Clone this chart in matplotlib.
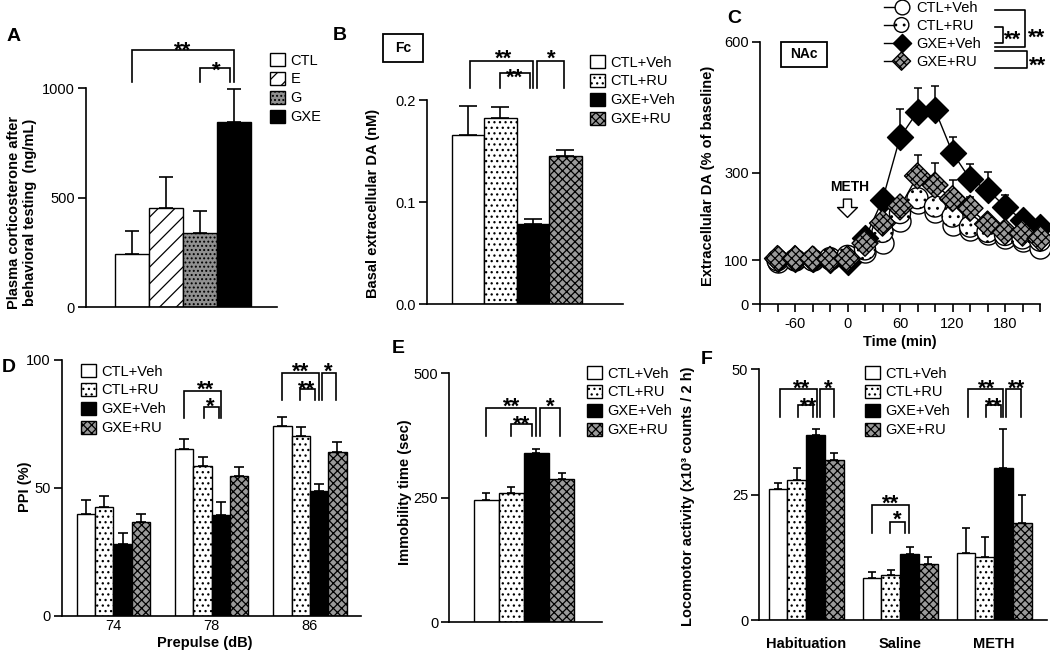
import numpy as np
import matplotlib
matplotlib.use('Agg')
import matplotlib.pyplot as plt
from matplotlib.patches import Patch, Rectangle
from matplotlib.lines import Line2D
from matplotlib.legend_handler import HandlerTuple

plt.rcParams['font.family'] = ['Liberation Sans', 'DejaVu Sans']
plt.rcParams['font.size'] = 10
plt.rcParams['hatch.linewidth'] = 0.9
plt.rcParams['hatch.color'] = 'black'
plt.rcParams['axes.linewidth'] = 1.2

# ---------------- data ----------------
groups4 = ['CTL+Veh', 'CTL+RU', 'GXE+Veh', 'GXE+RU']

# Panel A : plasma corticosterone
a_groups = ['CTL', 'E', 'G', 'GXE']
a_mean = [245, 455, 338, 848]
a_sem = [103, 141, 103, 147]
a_yticks = [0, 500, 1000]

# Panel B : basal extracellular DA in Fc
b_mean = [0.166, 0.182, 0.078, 0.145]
b_sem = [0.028, 0.011, 0.005, 0.006]
b_yticks = [0.0, 0.1, 0.2]

# Panel C : extracellular DA time course in NAc
c_time = [-80, -60, -40, -20, 0, 20, 40, 60, 80, 100, 120, 140, 160, 180, 200, 220]
c_ctl_veh = [97, 100, 100, 103, 110, 120, 139, 190, 232, 210, 180, 170, 160, 152, 145, 127]
c_ctl_ru = [100, 101, 100, 105, 110, 125, 165, 208, 242, 223, 200, 177, 165, 158, 150, 145]
c_gxe_veh = [103, 103, 102, 100, 96, 150, 238, 381, 440, 444, 346, 286, 261, 223, 192, 177]
c_gxe_ru = [104, 104, 103, 102, 104, 139, 185, 222, 293, 272, 241, 219, 183, 165, 162, 150]
c_ctl_veh_sem = [3, 3, 3, 3, 4, 5, 8, 12, 15, 12, 10, 8, 8, 6, 6, 5]
c_ctl_ru_sem = [3, 3, 3, 3, 4, 5, 8, 12, 18, 15, 12, 10, 8, 6, 6, 5]
c_gxe_veh_sem = [3, 3, 3, 3, 4, 6, 8, 65, 53, 55, 37, 34, 42, 26, 19, 15]
c_gxe_ru_sem = [3, 3, 3, 3, 4, 6, 10, 20, 48, 50, 43, 25, 15, 10, 8, 8]
c_yticks = [0, 100, 300, 600]
c_xticks = list(range(-100, 221, 20))
c_xticklabels = ['' if t not in (-60, 0, 60, 120, 180) else str(t) for t in c_xticks]

# Panel D : PPI
d_prepulse = ['74', '78', '86']
d_mean = [[39.8, 65.3, 74.3],   # CTL+Veh
          [42.4, 58.5, 70.3],   # CTL+RU
          [27.9, 39.2, 48.6],   # GXE+Veh
          [36.6, 54.8, 64.1]]   # GXE+RU
d_sem = [[5.4, 3.9, 3.3],
         [4.4, 3.7, 3.4],
         [4.3, 5.3, 2.9],
         [3.0, 3.5, 3.8]]
d_yticks = [0, 50, 100]

# Panel E : immobility time
e_mean = [245.6, 259, 339, 287]
e_sem = [13.4, 13.4, 9.7, 12]
e_yticks = [0, 250, 500]

# Panel F : locomotor activity
f_cats = ['Habituation', 'Saline', 'METH']
f_mean = [[26.1, 8.3, 13.3],
          [27.9, 9.0, 12.6],
          [36.8, 13.2, 30.4],
          [31.9, 11.1, 19.4]]
f_sem = [[1.2, 1.3, 5.0],
         [2.4, 1.0, 3.9],
         [1.3, 1.4, 7.7],
         [1.5, 1.4, 5.5]]
f_yticks = [0, 25, 50]

# significance brackets: (x_left, x_right, y_top, y_bottom, label, text_x, text_y)
a_sig = [(0.0, 3.0, 1175, 1030, '**', 1.5, 1205),
         (2.0, 2.9, 1093, 1030, '*', 2.47, 1114)]
b_sig = [(0.05, 2.0, 0.238, 0.212, '**', 1.09, 0.247),
         (0.99, 1.91, 0.226, 0.212, '**', 1.45, 0.229),
         (2.12, 2.96, 0.238, 0.212, '*', 2.56, 0.247)]
d_sig = [(0.72, 1.093, 88, 77.3, '**', 0.94, 91),
         (0.918, 1.07, 81.7, 77.3, '*', 0.99, 84.4),
         (1.72, 2.09, 95, 84.4, '**', 1.906, 98),
         (1.90, 2.05, 88.5, 84.4, '**', 1.97, 90.9),
         (2.12, 2.27, 95, 84.4, '*', 2.19, 98)]
e_sig = [(0.0, 2.0, 430, 374, '**', 1.02, 446),
         (1.0, 1.81, 398, 374, '**', 1.41, 410),
         (2.14, 2.94, 430, 374, '*', 2.57, 446)]
f_sig = [(-0.28, 0.11, 46.0, 40.4, '**', -0.05, 47.5),
         (-0.09, 0.075, 42.9, 40.4, '**', 0.02, 43.9),
         (0.145, 0.295, 46.0, 40.4, '*', 0.235, 47.5),
         (0.70, 1.09, 22.9, 17.4, '**', 0.90, 24.6),
         (0.89, 1.05, 19.6, 17.4, '*', 0.97, 21.3),
         (1.72, 2.10, 46.0, 40.4, '**', 1.92, 47.5),
         (1.915, 2.075, 42.9, 40.4, '**', 1.99, 43.9),
         (2.13, 2.285, 46.0, 40.4, '**', 2.24, 47.5)]

# ---------------- styles ----------------
W, H = 1050, 653
fig = plt.figure(figsize=(W / 100, H / 100), dpi=100)

CHECK = 'xxxx'
CHECK_FC = '#9a9a9a'
sty4 = [dict(facecolor='white', hatch=None),
        dict(facecolor='white', hatch='...'),
        dict(facecolor='black', hatch=None),
        dict(facecolor=CHECK_FC, hatch=CHECK)]
styA = [dict(facecolor='white', hatch=None),
        dict(facecolor='white', hatch='//'),
        dict(facecolor='#909090', hatch='....'),
        dict(facecolor='black', hatch=None)]

STAR_FS = 16


def add_ax(x0, y0, x1, y1):
    return fig.add_axes([x0 / W, 1 - y1 / H, (x1 - x0) / W, (y1 - y0) / H])


def style_ax(ax, yticks, ylabels=None):
    for s in ('top', 'right'):
        ax.spines[s].set_visible(False)
    ax.set_yticks(yticks)
    if ylabels is not None:
        ax.set_yticklabels(ylabels)
    ax.tick_params(axis='y', direction='out', length=6, width=1.2, pad=2, labelsize=10.5)
    ax.tick_params(axis='x', length=0)


def ylabel_at(ax, text, px, py, **kw):
    ax.set_ylabel(text, fontweight='bold', fontsize=10.5, **kw)
    bb = ax.get_position()
    fx, fy = px / W, 1 - py / H
    ax.yaxis.set_label_coords((fx - bb.x0) / bb.width, (fy - bb.y0) / bb.height)
    ax.yaxis.label.set_verticalalignment('center')


def sig(ax, items, fs=STAR_FS):
    for x1, x2, yt, yb, lab, tx, ty in items:
        ax.plot([x1, x1, x2, x2], [yb, yt, yt, yb], color='black', lw=1.2,
                clip_on=False, solid_joinstyle='miter')
        ax.annotate(lab, (tx, ty), xytext=(0, -0.58 * fs), textcoords='offset points',
                    ha='center', va='baseline', fontsize=fs, fontweight='bold',
                    annotation_clip=False)


def bar_legend(ax, labels, styles, px, py):
    handles = [Patch(edgecolor='black', linewidth=1.0, **s) for s in styles]
    ax.legend(handles, labels, loc='upper left', bbox_to_anchor=(px / W, 1 - py / H),
              bbox_transform=fig.transFigure, frameon=False, borderpad=0,
              borderaxespad=0, handlelength=1.0, handleheight=1.0,
              handletextpad=0.4, labelspacing=0.3, fontsize=10.5)


def letter(px, py, t):
    fig.text(px / W, 1 - py / H, t, fontsize=14, fontweight='bold', ha='center', va='center')


# ---------------- Panel A ----------------
axA = add_ax(86, 88.3, 277, 307.3)
xa = np.arange(len(a_groups))
for i in range(len(a_groups)):
    axA.bar(xa[i], a_mean[i], 1.0, edgecolor='black', linewidth=1.0, zorder=2, **styA[i])
axA.errorbar(xa, a_mean, yerr=[np.zeros(len(a_sem)), a_sem], fmt='none', ecolor='black',
             elinewidth=1.2, capsize=4.7, capthick=1.2, zorder=1)
axA.set_xlim(-1.37, 4.28)
axA.set_ylim(0, 1000)
style_ax(axA, a_yticks)
axA.set_xticks([])
sig(axA, a_sig)
bar_legend(axA, a_groups, styA, 270, 53)
ylabel_at(axA, 'Plasma corticosterone after\nbehavioral testing  (ng/mL)', 22, 212)
letter(14, 36.5, 'A')

# ---------------- Panel B ----------------
axB = add_ax(426.7, 100, 623, 304)
xb = np.arange(4)
for i in range(4):
    axB.bar(xb[i], b_mean[i], 1.0, edgecolor='black', linewidth=1.0, zorder=2, **sty4[i])
axB.errorbar(xb, b_mean, yerr=[np.zeros(4), b_sem], fmt='none', ecolor='black',
             elinewidth=1.2, capsize=6.5, capthick=1.2, zorder=1)
axB.set_xlim(-1.27, 4.77)
axB.set_ylim(0, 0.2)
style_ax(axB, b_yticks, ['0.0', '0.1', '0.2'])
axB.set_xticks([])
sig(axB, b_sig)
bar_legend(axB, groups4, sty4, 590, 55)
ylabel_at(axB, 'Basal extracellular DA (nM)', 373, 203)
axB.add_patch(Rectangle((-2.62, 0.2375), 1.25, 0.0275, transform=axB.transData,
                        facecolor='white', edgecolor='black', lw=1.3, clip_on=False))
axB.text(-1.995, 0.251, 'Fc', ha='center', va='center', fontsize=10, fontweight='bold',
         clip_on=False)
letter(340, 36, 'B')

# ---------------- Panel C ----------------
axC = add_ax(760, 41.7, 1040, 304)
series = [(c_ctl_veh, c_ctl_veh_sem, 'o', 'white', None),
          (c_ctl_ru, c_ctl_ru_sem, 'o', 'white', '..'),
          (c_gxe_veh, c_gxe_veh_sem, 'D', 'black', None),
          (c_gxe_ru, c_gxe_ru_sem, 'D', CHECK_FC, CHECK)]
handles = []
for k, (vals, sem, mk, fc, hatch) in enumerate(series):
    axC.plot(c_time, vals, color='black', lw=1.0, zorder=1 + k * 0.1, clip_on=False)
    axC.errorbar(c_time, vals, yerr=[np.zeros(len(sem)), sem], fmt='none', ecolor='black',
                 elinewidth=1.1, capsize=3, capthick=1.1, zorder=1.5 + k * 0.1)
    sz = 230 if mk == 'o' else 175
    sc = axC.scatter(c_time, vals, s=sz, marker=mk, facecolor=fc, edgecolor='black',
                     linewidths=1.0, hatch=hatch, zorder=3 + k, clip_on=False)
    handles.append((Line2D([], [], color='black', lw=1.0), sc))
axC.set_xlim(-100, 220)
axC.set_ylim(0, 600)
style_ax(axC, c_yticks)
axC.set_xticks(c_xticks)
axC.set_xticklabels(c_xticklabels)
axC.tick_params(axis='x', direction='out', length=6, width=1.2, pad=3, labelsize=10.5)
axC.set_xlabel('Time (min)', fontweight='bold', fontsize=10.5, labelpad=3)
ylabel_at(axC, 'Extracellular DA (% of baseline)', 708, 176)
axC.legend(handles, groups4, loc='upper left', bbox_to_anchor=(884 / W, 1 - 1 / H),
           bbox_transform=fig.transFigure, frameon=False, borderpad=0, borderaxespad=0,
           handlelength=1.6, handletextpad=0.6, labelspacing=0.28, fontsize=10.5,
           markerscale=0.7, scatteryoffsets=[0.5],
           handler_map={tuple: HandlerTuple(ndivide=None, pad=0)})
# NAc box
axC.add_patch(Rectangle((-76.3, 543), 52.5, 57, facecolor='white', edgecolor='black',
                        lw=1.3, clip_on=False, zorder=10))
axC.text(-50, 571, 'NAc', ha='center', va='center', fontsize=10, fontweight='bold', zorder=11)
# METH arrow
axC.text(2.6, 268, 'METH', ha='center', va='center', fontsize=10, fontweight='bold')
axC.annotate('', xy=(0, 198), xytext=(0, 240),
             arrowprops=dict(arrowstyle='simple,head_length=0.55,head_width=1.1,tail_width=0.45',
                             facecolor='white', edgecolor='black', lw=1.0, mutation_scale=13,
                             shrinkA=0, shrinkB=0))
# legend brackets (figure pixel coordinates)
def fig_line(xs, ys):
    fig.add_artist(Line2D([x / W for x in xs], [1 - y / H for y in ys], color='black', lw=1.2,
                          transform=fig.transFigure))

def fig_star(px, py, t):
    fig.text(px / W, 1 - py / H, t, ha='center', va='center', fontsize=STAR_FS,
             fontweight='bold')

fig_line([995, 1025, 1025, 995], [10, 10, 46.7, 46.7])
fig_line([995, 1003.3, 1003.3, 995], [26.7, 26.7, 42.7, 42.7])
fig_line([995, 1026.7, 1026.7, 995], [50.7, 50.7, 68.3, 68.3])
fig_star(1036.7, 38, '**')
fig_star(1013, 40, '**')
fig_star(1038, 66, '**')
letter(734, 18.5, 'C')

# ---------------- Panel D ----------------
axD = add_ax(61.7, 360, 361, 615.7)
xd = np.arange(len(d_prepulse))
wd = 0.187
for i in range(4):
    xi = xd + (i - 1.5) * wd
    axD.bar(xi, d_mean[i], wd, edgecolor='black', linewidth=1.0, zorder=2, **sty4[i])
    axD.errorbar(xi, d_mean[i], yerr=[np.zeros(3), d_sem[i]], fmt='none', ecolor='black',
                 elinewidth=1.2, capsize=3.6, capthick=1.2, zorder=1)
axD.set_xlim(-0.527, 2.52)
axD.set_ylim(0, 100)
style_ax(axD, d_yticks)
axD.set_xticks(xd)
axD.set_xticklabels(d_prepulse)
axD.tick_params(axis='x', length=0, pad=2.5, labelsize=10.5)
axD.set_xlabel('Prepulse (dB)', fontweight='bold', fontsize=10.5)
bbD = axD.get_position()
axD.xaxis.set_label_coords((205 / W - bbD.x0) / bbD.width, -20.5 / 255.7)
sig(axD, d_sig)
bar_legend(axD, groups4, sty4, 81, 364)
ylabel_at(axD, 'PPI (%)', 25, 487)
letter(9, 367.5, 'D')

# ---------------- Panel E ----------------
axE = add_ax(449.3, 373.3, 601.7, 622.3)
xe = np.arange(4)
for i in range(4):
    axE.bar(xe[i], e_mean[i], 1.0, edgecolor='black', linewidth=1.0, zorder=2, **sty4[i])
axE.errorbar(xe, e_mean, yerr=[np.zeros(4), e_sem], fmt='none', ecolor='black',
             elinewidth=1.2, capsize=3.2, capthick=1.2, zorder=1)
axE.set_xlim(-1.47, 4.6)
axE.set_ylim(0, 500)
style_ax(axE, e_yticks)
axE.set_xticks([])
sig(axE, e_sig)
bar_legend(axE, groups4, sty4, 587, 366)
ylabel_at(axE, 'Immobility time (sec)', 405, 492)
letter(398.5, 348.5, 'E')

# ---------------- Panel F ----------------
axF = add_ax(759.3, 369.3, 1046.7, 620)
xf = np.arange(len(f_cats))
wf = 0.2
for i in range(4):
    xi = xf + (i - 1.5) * wf
    axF.bar(xi, f_mean[i], wf, edgecolor='black', linewidth=1.0, zorder=2, **sty4[i])
    axF.errorbar(xi, f_mean[i], yerr=[np.zeros(3), f_sem[i]], fmt='none', ecolor='black',
                 elinewidth=1.2, capsize=2.8, capthick=1.2, zorder=1)
axF.set_xlim(-0.50, 2.56)
axF.set_ylim(0, 50)
style_ax(axF, f_yticks)
axF.set_xticks(xf)
axF.set_xticklabels(f_cats, fontweight='bold')
axF.tick_params(axis='x', length=0, pad=12, labelsize=10.5)
sig(axF, f_sig)
bar_legend(axF, groups4, sty4, 865, 366)
ylabel_at(axF, 'Locomotor activity (x10³ counts / 2 h)', 688, 496)
letter(706.5, 359.5, 'F')

fig.savefig('out.png', dpi=100)
